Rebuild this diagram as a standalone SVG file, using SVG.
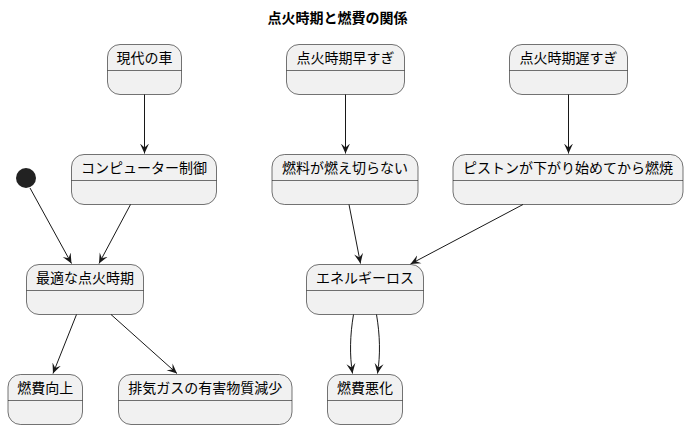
<svg xmlns="http://www.w3.org/2000/svg" width="688" height="429" viewBox="0 0 688 429">
<defs>
<style>
.box{fill:#F1F1F1;stroke:#181818;stroke-width:0.6}
.div{stroke:#181818;stroke-width:0.6}
.lbl{font-family:"Noto Sans CJK JP","Noto Sans",sans-serif;font-size:14px;fill:#000;text-anchor:middle}
.title{font-family:"Noto Sans CJK JP","Noto Sans",sans-serif;font-size:14px;font-weight:bold;fill:#000;text-anchor:middle}
.edge{fill:none;stroke:#181818;stroke-width:1}
</style>
<marker id="ah" viewBox="0 0 12 12" refX="10" refY="6" markerWidth="12" markerHeight="12" markerUnits="userSpaceOnUse" orient="auto">
<path d="M10,6 L0,1.5 L4,6 L0,10.5 Z" fill="#181818"/>
</marker>
</defs>
<rect width="688" height="429" fill="#FFFFFF"/>
<text class="title" x="337.5" y="23">点火時期と燃費の関係</text>

<g id="start"><circle cx="26" cy="178" r="10" fill="#222222"/></g>

<g id="n_gendai"><rect class="box" x="107.5" y="44.5" width="74" height="50" rx="12.5"/><line class="div" x1="107.5" y1="70.5" x2="181.5" y2="70.5"/><text class="lbl" x="144.5" y="62.5">現代の車</text></g>
<g id="n_haya"><rect class="box" x="286.5" y="44.5" width="118" height="50" rx="12.5"/><line class="div" x1="286.5" y1="70.5" x2="404.5" y2="70.5"/><text class="lbl" x="345.5" y="62.5">点火時期早すぎ</text></g>
<g id="n_oso"><rect class="box" x="509.5" y="44.5" width="118" height="50" rx="12.5"/><line class="div" x1="509.5" y1="70.5" x2="627.5" y2="70.5"/><text class="lbl" x="568.5" y="62.5">点火時期遅すぎ</text></g>

<g id="n_comp"><rect class="box" x="71.5" y="154.5" width="145" height="50" rx="12.5"/><line class="div" x1="71.5" y1="180.5" x2="216.5" y2="180.5"/><text class="lbl" x="144" y="172.5">コンピューター制御</text></g>
<g id="n_nenryo"><rect class="box" x="272" y="154.5" width="146" height="50" rx="12.5"/><line class="div" x1="272" y1="180.5" x2="418" y2="180.5"/><text class="lbl" x="345" y="172.5">燃料が燃え切らない</text></g>
<g id="n_piston"><rect class="box" x="453" y="154.5" width="230" height="50" rx="12.5"/><line class="div" x1="453" y1="180.5" x2="683" y2="180.5"/><text class="lbl" x="568" y="172.5">ピストンが下がり始めてから燃焼</text></g>

<g id="n_saiteki"><rect class="box" x="26.5" y="264.5" width="117" height="50" rx="12.5"/><line class="div" x1="26.5" y1="290.5" x2="143.5" y2="290.5"/><text class="lbl" x="85" y="282.5">最適な点火時期</text></g>
<g id="n_energy"><rect class="box" x="306.5" y="264.5" width="117" height="50" rx="12.5"/><line class="div" x1="306.5" y1="290.5" x2="423.5" y2="290.5"/><text class="lbl" x="365" y="282.5">エネルギーロス</text></g>

<g id="n_kojo"><rect class="box" x="8" y="374.5" width="74.5" height="50" rx="12.5"/><line class="div" x1="8" y1="400.5" x2="82.5" y2="400.5"/><text class="lbl" x="45.25" y="392.5">燃費向上</text></g>
<g id="n_haiki"><rect class="box" x="118.5" y="374.5" width="173.5" height="50" rx="12.5"/><line class="div" x1="118.5" y1="400.5" x2="292" y2="400.5"/><text class="lbl" x="205.25" y="392.5">排気ガスの有害物質減少</text></g>
<g id="n_akka"><rect class="box" x="327.5" y="374.5" width="75" height="50" rx="12.5"/><line class="div" x1="327.5" y1="400.5" x2="402.5" y2="400.5"/><text class="lbl" x="365" y="392.5">燃費悪化</text></g>

<g id="edges">
<path class="edge" marker-end="url(#ah)" d="M144.5,94.5 L144.5,153.5"/>
<path class="edge" marker-end="url(#ah)" d="M345.5,94.5 L345.5,153.5"/>
<path class="edge" marker-end="url(#ah)" d="M568.5,94.5 L568.5,153.5"/>
<path class="edge" marker-end="url(#ah)" d="M30,188 L71.5,263.5"/>
<path class="edge" marker-end="url(#ah)" d="M130.5,204.5 L99,263.5"/>
<path class="edge" marker-end="url(#ah)" d="M349,204.5 L360.5,263.5"/>
<path class="edge" marker-end="url(#ah)" d="M523,204.5 L410.5,264"/>
<path class="edge" marker-end="url(#ah)" d="M76.5,314.5 L53,373.5"/>
<path class="edge" marker-end="url(#ah)" d="M111,314.5 L177,373.5"/>
<path class="edge" marker-end="url(#ah)" d="M353.5,314.5 C350,335 349.5,355 352.5,373.5"/>
<path class="edge" marker-end="url(#ah)" d="M376.5,314.5 C380,335 380.5,355 377.5,373.5"/>
</g>
</svg>
